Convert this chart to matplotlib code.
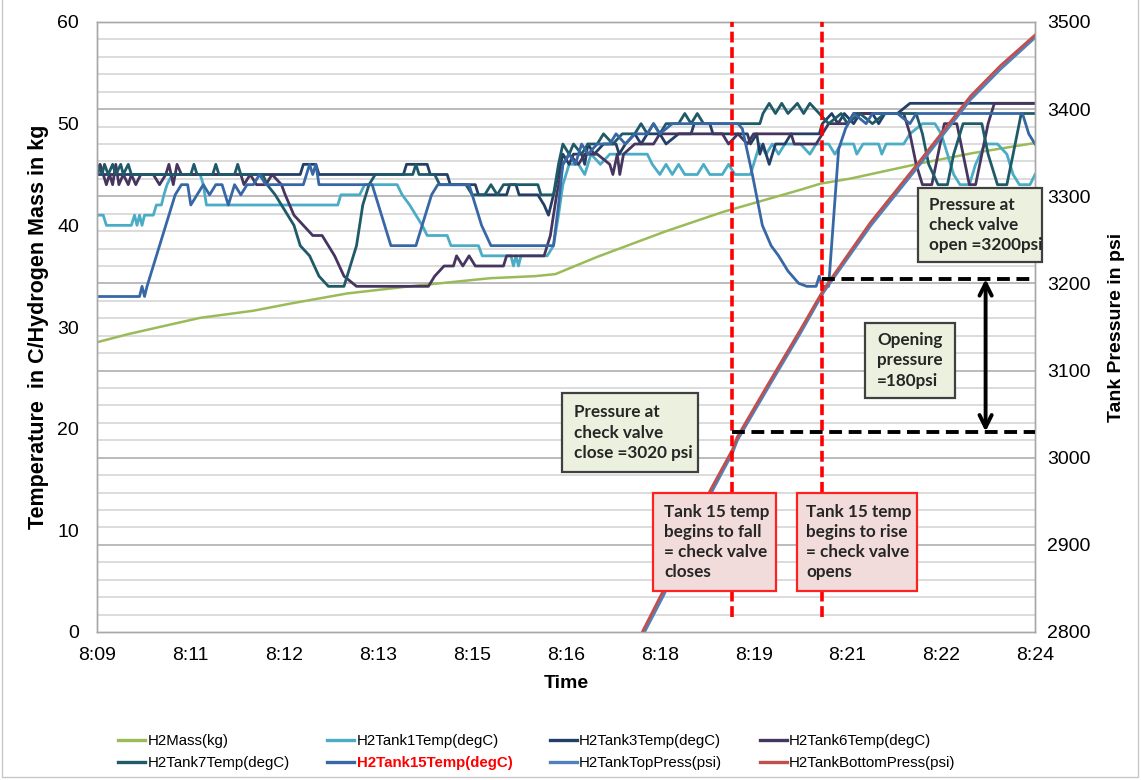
import matplotlib
matplotlib.use("Agg")
import matplotlib.pyplot as plt
from matplotlib.transforms import blended_transform_factory
from matplotlib.patches import Rectangle
from matplotlib import font_manager

# ---------------- data (time = minutes after 8:09) ----------------
tick_pos = [0, 1.5, 3, 4.5, 6, 7.5, 9, 10.5, 12, 13.5, 15]
tick_labels = ["8:09", "8:11", "8:12", "8:13", "8:15", "8:16", "8:18", "8:19", "8:21", "8:22", "8:24"]

mass_t = [0.0, 0.5, 1.0, 1.65, 2.5, 3.09, 4.0, 5.0, 6.29, 7.0, 7.33, 8.0, 9.09, 10.0, 11.25, 11.57, 12.05, 13.17, 14.0, 15.0]
mass_v = [28.5, 29.3, 30.0, 30.9, 31.6, 32.3, 33.3, 34.0, 34.8, 35.0, 35.2, 36.9, 39.4, 41.3, 43.5, 44.1, 44.6, 46.1, 47.1, 48.1]

tank1_t = [0.00, 0.10, 0.15, 0.55, 0.60, 0.64, 0.68, 0.72, 0.76, 0.90, 0.95, 1.03, 1.07, 1.12, 1.20, 1.65, 1.70, 1.75,
           3.85, 3.90, 4.20, 4.28, 4.80, 4.88, 5.00, 5.10, 5.20, 5.28, 5.60, 5.66, 6.10, 6.16, 6.62, 6.66, 6.70, 6.74,
           6.78, 7.20, 7.30, 7.38, 7.45, 7.55, 7.70, 7.80, 7.90, 8.05, 8.20, 8.80, 8.88, 9.00, 9.10, 9.20, 9.30, 9.40,
           9.60, 9.70, 9.80, 10.00, 10.10, 10.20, 10.45, 10.55, 10.60, 10.70, 10.80, 10.90, 11.00, 11.25, 11.40, 11.50,
           11.70, 11.80, 11.90, 12.10, 12.15, 12.25, 12.50, 12.55, 12.62, 12.90, 13.00, 13.20, 13.40, 13.50, 13.60,
           13.70, 13.80, 13.95, 14.05, 14.20, 14.40, 14.55, 14.65, 14.75, 14.92, 15.00]
tank1_v = [41, 41, 40, 40, 41, 40, 41, 40, 41, 41, 42, 42, 43, 44, 45, 45, 44, 42,
           42, 43, 43, 44, 44, 43, 42, 41, 40, 39, 39, 38, 38, 37, 37, 36, 37, 36,
           37, 37, 38, 41, 44, 46, 46, 45, 47, 46, 47, 47, 46, 45, 46, 45, 46, 45,
           45, 46, 45, 45, 46, 45, 45, 47, 48, 47, 48, 47, 48, 48, 47, 48,
           48, 47, 48, 48, 47, 48, 48, 47, 48, 48, 49, 50, 50, 49, 47,
           45, 44, 44, 46, 48, 48, 47, 45, 44, 44, 45]

tank3_t = [0.00, 3.25, 3.30, 3.50, 3.55, 4.90, 4.95, 5.28, 5.33, 5.60, 5.65, 6.05, 6.10, 6.55, 6.60, 6.70, 6.75, 7.05,
           7.15, 7.22, 7.30, 7.38, 7.45, 7.55, 7.62, 7.75, 7.80, 7.85, 7.95, 8.10, 8.30, 8.35, 8.45, 8.60, 8.70, 8.80,
           9.00, 9.10, 9.30, 9.50, 9.55, 9.80, 9.85, 10.40, 10.45, 10.55, 10.60, 10.65, 10.75, 10.85, 11.00, 11.10,
           11.55, 11.60, 11.75, 11.85, 11.95, 12.10, 12.20, 12.40, 12.50, 12.60, 12.80, 13.00, 15.00]
tank3_v = [45, 45, 46, 46, 45, 45, 46, 46, 45, 45, 44, 44, 43, 43, 44, 44, 43, 43,
           42, 41, 43, 45, 47, 46, 47, 47, 46, 48, 47, 48, 48, 47, 48, 49, 48, 49,
           49, 48, 49, 49, 50, 50, 49, 49, 48, 49, 47, 48, 46, 48, 48, 49,
           49, 50, 51, 50, 51, 50, 51, 51, 50, 51, 51, 52, 52]

tank6_t = [0.00, 0.05, 0.10, 0.15, 0.20, 0.25, 0.30, 0.35, 0.42, 0.50, 0.55, 0.62, 0.70, 0.90, 1.00, 1.10, 1.15, 1.22,
           1.28, 1.35, 2.30, 2.35, 2.45, 2.55, 2.70, 2.80, 2.95, 3.01, 3.15, 3.30, 3.45, 3.60, 3.70, 3.80, 3.95, 4.15,
           5.30, 5.40, 5.55, 5.70, 5.75, 5.85, 5.95, 6.05, 6.20, 6.50, 6.55, 7.15, 7.25, 7.35, 7.45, 7.55, 7.70, 7.80,
           8.00, 8.20, 8.25, 8.32, 8.36, 8.42, 8.60, 8.90, 9.00, 10.00, 10.10, 10.25, 10.40, 10.50, 11.10, 11.15,
           11.50, 11.60, 11.70, 12.00, 12.10, 12.90, 13.00, 13.10, 13.20, 13.35, 13.45, 13.55, 13.75, 13.85, 13.95,
           14.05, 14.15, 14.25, 14.35, 15.00]
tank6_v = [45, 46, 45, 44, 45, 44, 46, 44, 45, 44, 45, 44, 45, 45, 44, 45, 46, 44,
           46, 45, 45, 44, 45, 44, 44, 45, 44, 43, 41, 40, 39, 39, 38, 37, 35, 34,
           34, 35, 36, 36, 37, 36, 37, 36, 36, 36, 37, 37, 39, 43, 46, 47, 46, 47,
           47, 46, 45, 47, 45, 47, 48, 48, 49, 49, 48, 49, 48, 49, 49, 48,
           48, 49, 50, 50, 51, 51, 49, 46, 44, 44, 47, 50, 50, 47, 44,
           44, 47, 50, 52, 52]

tank7_t = [0.00, 0.08, 0.12, 0.18, 0.25, 0.30, 0.38, 0.42, 0.50, 0.55, 1.50, 1.55, 1.60, 1.85, 1.90, 1.95, 2.20, 2.25,
           2.30, 2.65, 2.72, 2.85, 2.95, 3.05, 3.15, 3.25, 3.40, 3.55, 3.70, 3.95, 4.05, 4.15, 4.25, 4.35, 4.45, 5.05,
           5.10, 5.15, 5.40, 5.48, 5.90, 6.00, 6.20, 6.30, 6.40, 6.50, 7.05, 7.10, 7.30, 7.38, 7.45, 7.55, 7.62, 7.75,
           7.85, 8.00, 8.10, 8.25, 8.40, 8.60, 8.70, 8.80, 8.90, 9.00, 9.10, 9.30, 9.40, 9.50, 9.60, 9.70, 10.30, 10.60,
           10.65, 10.75, 10.85, 10.95, 11.05, 11.20, 11.30, 11.40, 11.55, 11.70, 11.90, 12.00, 12.20, 12.40, 12.60,
           13.10, 13.20, 13.30, 13.45, 13.60, 13.70, 13.85, 14.15, 14.25, 14.40, 14.55, 14.65, 14.78, 15.00]
tank7_v = [46, 45, 46, 45, 46, 45, 46, 45, 46, 45, 45, 46, 45, 45, 46, 45, 45, 46,
           45, 45, 44, 43, 42, 41, 40, 38, 37, 35, 34, 34, 36, 38, 42, 44, 45, 45,
           46, 45, 45, 44, 44, 43, 43, 44, 43, 44, 44, 43, 43, 46, 48, 47, 48, 47,
           48, 48, 49, 48, 49, 49, 50, 49, 50, 49, 50, 50, 51, 50, 51, 50, 50, 50,
           51, 52, 51, 52, 51, 52, 51, 52, 51, 50, 51, 50, 51, 50, 51,
           51, 49, 46, 44, 44, 47, 50, 50, 47, 44, 44, 47, 51, 51]

tank15_t = [0.00, 0.68, 0.72, 0.76, 0.80, 0.85, 0.95, 1.05, 1.15, 1.25, 1.35, 1.45, 1.50, 1.60, 1.70, 1.80, 1.90, 2.00,
            2.10, 2.20, 2.30, 2.40, 2.50, 2.60, 2.70, 3.30, 3.35, 3.40, 3.45, 3.50, 3.55, 4.40, 4.50, 4.60, 4.70, 5.10,
            5.20, 5.35, 5.45, 5.95, 6.05, 6.15, 6.30, 7.30, 7.38, 7.45, 7.55, 7.65, 7.75, 7.85, 8.00, 8.20, 8.30, 8.45,
            8.60, 8.80, 8.90, 9.00, 9.20, 10.25, 10.32, 10.48, 10.64, 10.78, 10.90, 11.05, 11.22, 11.35, 11.50, 11.55,
            11.60, 11.70, 11.86, 11.97, 12.10, 12.30, 12.40, 12.80, 13.00, 13.10, 14.80, 14.90, 15.00]
tank15_v = [33, 33, 34, 33, 34, 35, 37, 39, 41, 43, 44, 44, 42, 43, 44, 43, 44, 44,
            42, 44, 43, 44, 44, 45, 44, 44, 45, 46, 45, 46, 44, 44, 42, 40, 38, 38,
            40, 43, 44, 44, 42, 40, 38, 38, 42, 46, 47, 46, 48, 47, 48, 48, 49, 48,
            49, 49, 50, 49, 50, 50, 49.5, 45, 40, 38, 37, 35.5, 34.3, 34, 34, 35,
            34, 34, 47.5, 49.5, 51, 50, 51, 51, 50, 51, 51, 49, 48]

press_t = [8.62, 8.72, 9.06, 9.81, 10.16, 10.24, 10.77, 11.25, 11.62, 12.37, 13.12, 13.97, 14.45, 15.0]
top_press = [2780, 2795, 2842, 2958, 3005, 3020, 3085, 3143, 3190, 3266, 3333, 3411, 3446, 3482]
bottom_press = [2785, 2800, 2848, 2963, 3009, 3024, 3089, 3147, 3193, 3270, 3337, 3415, 3450, 3485]

valve_close_t, valve_open_t = 10.16, 11.60
close_psi, open_psi = 3030, 3205
arrow_t = 14.21

# ---------------- style ----------------
W, H = 1141, 780
names = {f.name for f in font_manager.fontManager.ttflist}
base_font = "Liberation Sans" if "Liberation Sans" in names else "DejaVu Sans"
box_font = "Lato" if "Lato" in names else base_font
plt.rcParams["font.family"] = [base_font, "DejaVu Sans"]

def fx(px):
    return px / W

def fy(py):
    return 1 - py / H

fig = plt.figure(figsize=(W / 100, H / 100), dpi=100)
fig.patch.set_facecolor("white")
ax = fig.add_axes([fx(97), fy(632), fx(1035) - fx(97), fy(22) - fy(632)])
ax2 = ax.twinx()

ax.set_xlim(0, 15)
ax.set_ylim(0, 60)
ax2.set_ylim(2800, 3500)

# gridlines (follow the secondary axis)
blend = blended_transform_factory(ax.transAxes, ax2.transData)
for p in range(2820, 3500, 20):
    ax.plot([0, 1], [p, p], transform=blend, color="#B5B5B5" if p % 100 == 0 else "#D9D9D9",
            lw=1.3, zorder=0.5)

c_mass = "#9BBB59"
c_t1 = "#4BACC6"
c_t3 = "#243F66"
c_t6 = "#46365F"
c_t7 = "#1F5A69"
c_t15 = "#3867A6"
c_top = "#4F81BD"
c_bot = "#C0504D"

h_mass, = ax.plot(mass_t, mass_v, color=c_mass, lw=1.8, label="H2Mass(kg)")
h_t1, = ax.plot(tank1_t, tank1_v, color=c_t1, lw=2.0, label="H2Tank1Temp(degC)")
h_t3, = ax.plot(tank3_t, tank3_v, color=c_t3, lw=2.0, label="H2Tank3Temp(degC)")
h_t6, = ax.plot(tank6_t, tank6_v, color=c_t6, lw=2.0, label="H2Tank6Temp(degC)")
h_t7, = ax.plot(tank7_t, tank7_v, color=c_t7, lw=2.0, label="H2Tank7Temp(degC)")
h_t15, = ax.plot(tank15_t, tank15_v, color=c_t15, lw=2.0, label="H2Tank15Temp(degC)")
h_top, = ax2.plot(press_t, top_press, color=c_top, lw=2.0, label="H2TankTopPress(psi)")
h_bot, = ax2.plot(press_t, bottom_press, color=c_bot, lw=2.0, label="H2TankBottomPress(psi)")

# annotations: valve lines
ax2.vlines([valve_close_t, valve_open_t], 2817, 3500, colors="#FF0000", lw=2.6,
           linestyles=[(0, (3.0, 1.3))], zorder=5)
ax2.hlines([open_psi], valve_open_t, 15.0, colors="black", lw=2.8, linestyles=[(0, (3.3, 1.7))], zorder=6)
ax2.hlines([close_psi], valve_close_t, 15.0, colors="black", lw=2.8, linestyles=[(0, (3.3, 1.7))], zorder=6)
ax2.annotate("", xy=(arrow_t, open_psi), xytext=(arrow_t, close_psi),
             arrowprops=dict(arrowstyle="<->", lw=2.8, color="black", mutation_scale=22,
                             shrinkA=0, shrinkB=0), zorder=7)

# axes styling
for a in (ax, ax2):
    for s in a.spines.values():
        s.set_color("#A8A8A8")
        s.set_linewidth(1.0)
ax.set_xticks(tick_pos)
ax.set_xticklabels(tick_labels)
ax.set_yticks(range(0, 61, 10))
ax2.set_yticks(range(2800, 3501, 100))
ax.tick_params(axis="x", length=0, pad=11, labelsize=14)
ax.tick_params(axis="y", length=0, pad=13, labelsize=14)
ax2.tick_params(axis="y", length=0, pad=9, labelsize=14)
ax.set_xlabel("Time", fontsize=14, fontweight="bold", labelpad=8)
ax.set_ylabel("Temperature  in C/Hydrogen Mass in kg", fontsize=15.5, fontweight="bold", labelpad=6)
ax2.set_ylabel("Tank Pressure in psi", fontsize=14, fontweight="bold", labelpad=12)

# legend (row-major order like the original)
order = [h_mass, h_t7, h_t1, h_t15, h_t3, h_top, h_t6, h_bot]
leg = fig.legend(handles=order, labels=[h.get_label() for h in order], ncol=4,
                 loc="center", bbox_to_anchor=(fx(537), fy(752)), frameon=False,
                 fontsize=10.8, handlelength=1.8, handletextpad=0.15, columnspacing=2.5,
                 labelspacing=0.55)
for t in leg.get_texts():
    if t.get_text().startswith("H2Tank15"):
        t.set_color("#FF0000")
        t.set_fontweight("bold")
for ln in leg.get_lines():
    ln.set_linewidth(2.4)

# text boxes
def box(x0, y0, x1, y1, text, fc, ec, pad=11, fs=12.3):
    fig.add_artist(Rectangle((fx(x0), fy(y1)), fx(x1) - fx(x0), fy(y0) - fy(y1),
                             transform=fig.transFigure, facecolor=fc, edgecolor=ec,
                             lw=1.6, zorder=20))
    fig.text(fx(x0 + pad), fy((y0 + y1) / 2), text, ha="left", va="center",
             fontsize=fs, fontweight="bold", family=[box_font, "DejaVu Sans"],
             color="#262626", linespacing=1.33, zorder=21)

green_fc, green_ec = "#EBF1DE", "#404040"
pink_fc, pink_ec = "#F2DCDB", "#FF2020"
box(918, 188, 1042, 262, "Pressure at\ncheck valve\nopen =3200psi", green_fc, green_ec, pad=11)
box(865, 323, 955, 398, "Opening\npressure\n=180psi", green_fc, green_ec, pad=12)
box(562, 393, 698, 472, "Pressure at\ncheck valve\nclose =3020 psi", green_fc, green_ec, pad=12)
box(653, 493, 776, 591, "Tank 15 temp\nbegins to fall\n= check valve\ncloses", pink_fc, pink_ec, pad=11)
box(797, 493, 917, 591, "Tank 15 temp\nbegins to rise\n= check valve\nopens", pink_fc, pink_ec, pad=9)

# outer chart border
fig.add_artist(Rectangle((fx(2), fy(777)), fx(1138) - fx(2), fy(-5) - fy(777),
                         transform=fig.transFigure, facecolor="none", edgecolor="#C8C8C8",
                         lw=1.0, zorder=30))

fig.savefig("out.png", dpi=100)
